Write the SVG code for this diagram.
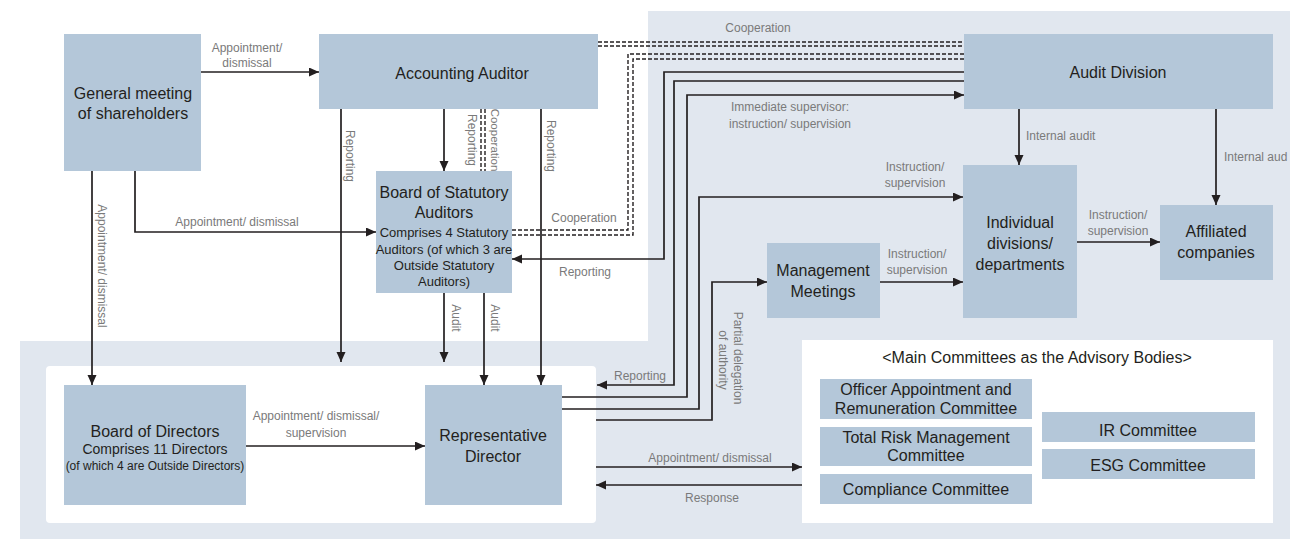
<svg xmlns="http://www.w3.org/2000/svg" width="1290" height="540" viewBox="0 0 1290 540">
<defs>
<marker id="arr" markerUnits="userSpaceOnUse" markerWidth="11" markerHeight="10" refX="10" refY="4.5" orient="auto">
<path d="M0,0 L10,4.5 L0,9 Z" fill="#231f20"/>
</marker>
<style>
.node{fill:#b4c7d9}
.t{font-family:"Liberation Sans",Arial,sans-serif;fill:#231f20;text-anchor:middle}
.t16{font-size:16px}
.t14{font-size:14px}
.t13{font-size:13px}
.t12{font-size:12px}
.lb{font-family:"Liberation Sans",Arial,sans-serif;font-size:12px;fill:#7a7a7a;text-anchor:middle}
.ln{fill:none;stroke:#231f20;stroke-width:1.7}
.ar{marker-end:url(#arr)}
.ds{fill:none;stroke:#231f20;stroke-width:1.4;stroke-dasharray:4 2}
</style>
</defs>
<rect width="1290" height="540" fill="#ffffff"/>
<path d="M648,11 H1290 V539 H20 V341 H648 Z" fill="#e1e7ef"/>
<rect x="46" y="366" width="550" height="157" rx="4" fill="#ffffff"/>
<rect x="802" y="340" width="471" height="183" fill="#ffffff"/>

<g id="connectors">
<path class="ln ar" d="M201,72 H319"/>
<path class="ln ar" d="M92,171 V385"/>
<path class="ln ar" d="M135,171 V232 H376"/>
<path class="ln ar" d="M444,109 V171"/>
<path class="ds" d="M481,109 V171"/>
<path class="ds" d="M485,109 V171"/>
<path class="ln ar" d="M341,109 V362"/>
<path class="ln ar" d="M541,109 V385"/>
<path class="ln ar" d="M444,293 V362"/>
<path class="ln ar" d="M484,293 V385"/>
<path class="ln ar" d="M246,446 H425"/>
<path class="ds" d="M598,42 H964"/>
<path class="ds" d="M598,46 H964"/>
<path class="ds" d="M512,230 H628 V54 H964"/>
<path class="ds" d="M512,235 H633 V59 H964"/>
<path class="ln ar" d="M964,72 H664 V259 H512"/>
<path class="ln ar" d="M964,81 H674 V385 H597"/>
<path class="ln ar" d="M562,397 H687 V95 H964"/>
<path class="ln ar" d="M562,409 H699 V197 H963"/>
<path class="ln ar" d="M596,420 H712 V282 H767"/>
<path class="ln ar" d="M1019,109 V165"/>
<path class="ln ar" d="M1216,109 V205"/>
<path class="ln ar" d="M880,282 H963"/>
<path class="ln ar" d="M1077,242 H1160"/>
<path class="ln ar" d="M596,467 H802"/>
<path class="ln ar" d="M802,485 H596"/>

<text class="lb" x="247" y="52">Appointment/</text>
<text class="lb" x="247" y="67">dismissal</text>
<text class="lb" x="237" y="226">Appointment/ dismissal</text>
<text class="lb" x="758" y="32">Cooperation</text>
<text class="lb" x="584" y="222">Cooperation</text>
<text class="lb" x="585" y="276">Reporting</text>
<text class="lb" x="790" y="111">Immediate supervisor:</text>
<text class="lb" x="790" y="128">instruction/ supervision</text>
<text class="lb" x="1026" y="140" style="text-anchor:start">Internal audit</text>
<text class="lb" x="1224" y="161" style="text-anchor:start">Internal aud</text>
<text class="lb" x="915" y="171">Instruction/</text>
<text class="lb" x="915" y="187">supervision</text>
<text class="lb" x="917" y="258">Instruction/</text>
<text class="lb" x="917" y="274">supervision</text>
<text class="lb" x="1118" y="219">Instruction/</text>
<text class="lb" x="1118" y="235">supervision</text>
<text class="lb" x="640" y="380">Reporting</text>
<text class="lb" x="316" y="420">Appointment/ dismissal/</text>
<text class="lb" x="316" y="437">supervision</text>
<text class="lb" x="710" y="462">Appointment/ dismissal</text>
<text class="lb" x="712" y="502">Response</text>
<text class="lb" transform="translate(98,266) rotate(90)">Appointment/ dismissal</text>
<text class="lb" transform="translate(346,156) rotate(90)">Reporting</text>
<text class="lb" transform="translate(468,140) rotate(90)">Reporting</text>
<text class="lb" transform="translate(491,140) rotate(90)" style="font-size:11.5px">Cooperation</text>
<text class="lb" transform="translate(547,146) rotate(90)">Reporting</text>
<text class="lb" transform="translate(452,318) rotate(90)">Audit</text>
<text class="lb" transform="translate(491,318) rotate(90)">Audit</text>
<text class="lb" transform="translate(734,358) rotate(90)">Partial delegation</text>
<text class="lb" transform="translate(719,360) rotate(90)">of authority</text>
</g>

<g id="general-meeting">
<rect class="node" x="64" y="34" width="137" height="137"/>
<text class="t t16" x="133" y="99">General meeting</text>
<text class="t t16" x="133" y="119">of shareholders</text>
</g>
<g id="accounting-auditor">
<rect class="node" x="319" y="34" width="279" height="75"/>
<text class="t t16" x="462" y="79">Accounting Auditor</text>
</g>
<g id="audit-division">
<rect class="node" x="964" y="34" width="309" height="75"/>
<text class="t t16" x="1118" y="78">Audit Division</text>
</g>
<g id="board-statutory-auditors">
<rect class="node" x="376" y="171" width="136" height="122"/>
<text class="t t16" x="444" y="198">Board of Statutory</text>
<text class="t t16" x="444" y="218">Auditors</text>
<text class="t t13" x="444" y="237">Comprises 4 Statutory</text>
<text class="t t13" x="444" y="254">Auditors (of which 3 are</text>
<text class="t t13" x="444" y="270">Outside Statutory</text>
<text class="t t13" x="444" y="286">Auditors)</text>
</g>
<g id="individual-divisions">
<rect class="node" x="963" y="165" width="114" height="153"/>
<text class="t t16" x="1020" y="228">Individual</text>
<text class="t t16" x="1020" y="249">divisions/</text>
<text class="t t16" x="1020" y="270">departments</text>
</g>
<g id="affiliated-companies">
<rect class="node" x="1160" y="205" width="113" height="75"/>
<text class="t t16" x="1216" y="237">Affiliated</text>
<text class="t t16" x="1216" y="258">companies</text>
</g>
<g id="management-meetings">
<rect class="node" x="767" y="243" width="113" height="75"/>
<text class="t t16" x="823" y="276">Management</text>
<text class="t t16" x="823" y="297">Meetings</text>
</g>
<g id="board-of-directors">
<rect class="node" x="64" y="385" width="182" height="120"/>
<text class="t t16" x="155" y="437">Board of Directors</text>
<text class="t t14" x="155" y="454">Comprises 11 Directors</text>
<text class="t t12" x="155" y="470">(of which 4 are Outside Directors)</text>
</g>
<g id="representative-director">
<rect class="node" x="425" y="385" width="137" height="120"/>
<text class="t t16" x="493" y="441">Representative</text>
<text class="t t16" x="493" y="462">Director</text>
</g>
<g id="committees">
<text class="t t16" x="1037" y="363">&lt;Main Committees as the Advisory Bodies&gt;</text>
<g id="officer-committee">
<rect class="node" x="820" y="379" width="212" height="40"/>
<text class="t t16" x="926" y="395">Officer Appointment and</text>
<text class="t t16" x="926" y="414">Remuneration Committee</text>
</g>
<g id="risk-committee">
<rect class="node" x="820" y="427" width="212" height="39"/>
<text class="t t16" x="926" y="443">Total Risk Management</text>
<text class="t t16" x="926" y="461">Committee</text>
</g>
<g id="compliance-committee">
<rect class="node" x="820" y="474" width="212" height="30"/>
<text class="t t16" x="926" y="495">Compliance Committee</text>
</g>
<g id="ir-committee">
<rect class="node" x="1042" y="412" width="213" height="30"/>
<text class="t t16" x="1148" y="436">IR Committee</text>
</g>
<g id="esg-committee">
<rect class="node" x="1042" y="449" width="213" height="30"/>
<text class="t t16" x="1148" y="471">ESG Committee</text>
</g>
</g>
</svg>
